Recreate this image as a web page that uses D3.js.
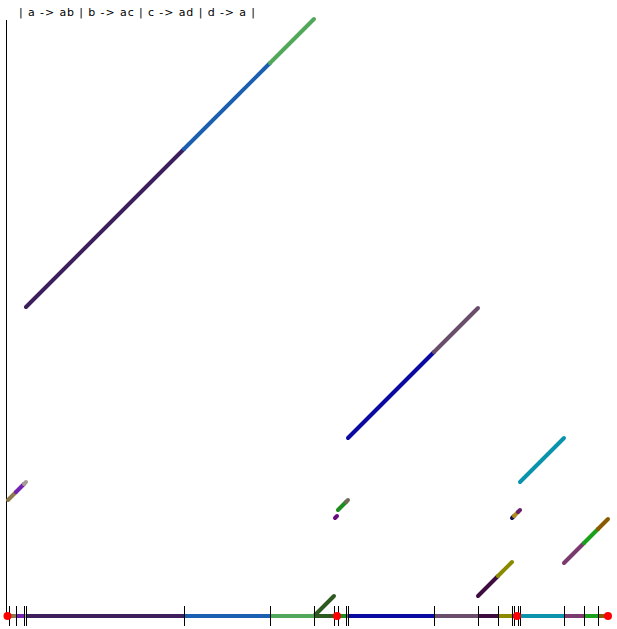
<!DOCTYPE html>
<html><head><meta charset="utf-8">
<script src="https://cdn.jsdelivr.net/npm/d3@7"></script>
<style>html,body{margin:0;padding:0;background:#fff;}svg{display:block;}</style>
</head><body>
<svg id="chart" width="617" height="629"></svg>
<script>
// ---- data ----
const title = "| a -> ab | b -> ac | c -> ad | d -> a |";
// bottom interval: boundaries of pieces and their colours
const breaks = [0, 8, 16, 18, 176, 262, 306, 326, 330, 338, 340, 426, 470, 490, 504, 506, 510, 512, 556, 576, 590, 600];
const pieceColors = ["#8c7a4e","#7420b0","#a29c92","#3c1f5c","#1b5fb0","#52a85a","#2d5a1f","#6a0a80","#1e8c1e","#6e6a5a","#0a0aa0","#6a4d6a","#3e0c3e","#8a8a00","#141450","#b08a20","#6a1f6a","#0a93ad","#7a3a6e","#1aa01a","#8a5a00"];
// tick marks on the bottom interval
const tickPos = [0.5, 8, 16, 18, 176, 262, 306, 326, 330, 338, 340, 426, 470, 490, 504, 506, 510, 512, 556, 576, 590];
// red marked points on the interval
const dotPos = [-0.5, 329, 509, 600];
// lifted copies (diagonals): start, end and height at the start
const diagStart  = [0, 8, 16, 18, 176, 262, 306, 327, 330, 338, 340, 426, 470, 490, 504, 506, 510, 512, 556, 576, 590];
const diagEnd    = [8, 16, 18, 176, 262, 306, 326, 329, 338, 340, 426, 470, 490, 504, 506, 510, 512, 556, 576, 590, 600];
const diagHeight = [116, 124, 132, 309, 467, 553, 0, 98, 106, 114, 178, 264, 20, 40, 98, 100, 104, 134, 53, 73, 87];
const diagColor  = ["#8c7a4e","#7420b0","#a29c92","#3c1f5c","#1b5fb0","#52a85a","#2d5a1f","#6a0a80","#1e8c1e","#6e6a5a","#0a0aa0","#6a4d6a","#3e0c3e","#8a8a00","#141450","#b08a20","#6a1f6a","#0a93ad","#7a3a6e","#1aa01a","#8a5a00"];
const axisTop = 596;

// ---- drawing ----
const svg = d3.select("#chart");
const x = d3.scaleLinear().domain([0, 600]).range([8, 608]);
const y = d3.scaleLinear().domain([0, 600]).range([616, 16]);

svg.append("text").attr("x", 19).attr("y", 16)
  .attr("font-family", "DejaVu Sans, sans-serif").attr("font-size", 11)
  .attr("letter-spacing", 0.9)
  .attr("fill", "#000").attr("xml:space","preserve").text(title);

// vertical axis
svg.append("line").attr("x1", 6.5).attr("x2", 6.5).attr("y1", y(axisTop)).attr("y2", y(0))
  .attr("stroke", "#000").attr("stroke-width", 1).attr("shape-rendering", "crispEdges");

// diagonals
const diags = diagStart.map((s, i) => ({s, e: diagEnd[i], h: diagHeight[i], c: diagColor[i]}));
svg.append("g").selectAll("line").data(diags).join("line")
  .attr("x1", d => x(d.s)).attr("y1", d => y(d.h))
  .attr("x2", d => x(d.e)).attr("y2", d => y(d.h + (d.e - d.s)))
  .attr("stroke", d => d.c).attr("stroke-width", 4).attr("stroke-linecap", "round");

// bottom interval pieces
const pieces = pieceColors.map((c, i) => ({a: breaks[i], b: breaks[i+1], c}));
svg.append("g").attr("shape-rendering", "crispEdges").selectAll("line").data(pieces).join("line")
  .attr("x1", d => x(d.a)).attr("x2", d => x(d.b))
  .attr("y1", y(0)).attr("y2", y(0))
  .attr("stroke", d => d.c).attr("stroke-width", 4);

// ticks
svg.append("g").attr("shape-rendering", "crispEdges").selectAll("line").data(tickPos).join("line")
  .attr("x1", d => Math.round(x(d)) + 0.5).attr("x2", d => Math.round(x(d)) + 0.5)
  .attr("y1", y(0) - 10).attr("y2", y(0) + 10)
  .attr("stroke", "#000").attr("stroke-width", 1);

// red dots
svg.append("g").selectAll("circle").data(dotPos).join("circle")
  .attr("cx", d => x(d)).attr("cy", y(0)).attr("r", 4).attr("fill", "#f00");
</script>
</body></html>
